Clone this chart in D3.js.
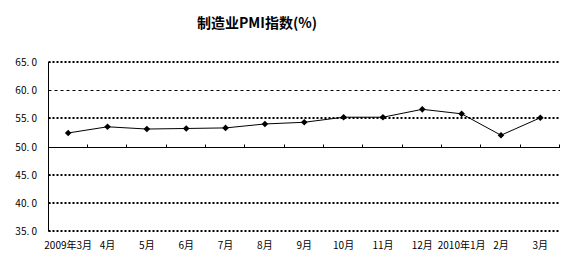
<!DOCTYPE html>
<html lang="zh">
<head>
    <meta charset="UTF-8"/>
    <title>制造业PMI指数</title>
    <script src="https://d3js.org/d3.v7.min.js"></script>
    <style>
        body, html {
            margin: 0;
            padding: 0;
            background: #fff;
            overflow: hidden;
        }
        svg { display: block; }
        .tick-label {
            font-family: "Noto Sans CJK SC", "DejaVu Sans", sans-serif;
            font-size: 10px;
            fill: #000;
        }
    </style>
</head>
<body>
<svg class="chart" width="566" height="278"></svg>
<script>
    // data
    const months = ["2009年3月", "4月", "5月", "6月", "7月", "8月", "9月", "10月", "11月", "12月", "2010年1月", "2月", "3月"];
    const pmi = [52.4, 53.5, 53.1, 53.2, 53.3, 54.0, 54.3, 55.2, 55.2, 56.6, 55.8, 52.0, 55.1];
    const yTicks = [35, 40, 45, 50, 55, 60, 65];

    const svg = d3.select(".chart");
    const plotLeft = 48.5, plotRight = 560, plotTop = 62, plotBottom = 231;

    const x = d3.scaleBand().domain(months).range([plotLeft, plotRight]);
    const y = d3.scaleLinear().domain([35, 65]).range([plotBottom, plotTop]);

    // title
    svg.append("text")
        .attr("x", 257)
        .attr("y", 28)
        .attr("text-anchor", "middle")
        .attr("font-family", "'Noto Sans CJK SC', sans-serif")
        .attr("font-size", 14)
        .attr("font-weight", "bold")
        .text("制造业PMI指数(%)");

    // gridlines
    yTicks.filter(d => d !== 50).forEach(d => {
        const thin = d === 60;
        svg.append("line")
            .attr("x1", plotLeft).attr("x2", plotRight)
            .attr("y1", Math.round(y(d)) + (thin ? 0.5 : 0))
            .attr("y2", Math.round(y(d)) + (thin ? 0.5 : 0))
            .attr("stroke", "#000")
            .attr("stroke-width", thin ? 1 : 2)
            .attr("stroke-dasharray", thin ? "3,3" : "2,2");
    });

    // y axis
    svg.append("line")
        .attr("x1", plotLeft).attr("x2", plotLeft)
        .attr("y1", plotTop).attr("y2", plotBottom)
        .attr("stroke", "#000").attr("stroke-width", 1);

    svg.selectAll(".ytick")
        .data(yTicks)
        .enter()
        .append("line")
        .attr("x1", plotLeft).attr("x2", plotLeft + 2)
        .attr("y1", d => Math.round(y(d)) + 0.5)
        .attr("y2", d => Math.round(y(d)) + 0.5)
        .attr("stroke", "#000");

    svg.selectAll(".ylab")
        .data(yTicks)
        .enter()
        .append("text")
        .attr("class", "tick-label")
        .attr("x", 37)
        .attr("y", d => y(d) + 4)
        .attr("text-anchor", "end")
        .attr("font-size", 11)
        .text(d => d.toFixed(1).replace(".", ". "));

    // x axis at 50
    const y50 = Math.round(y(50)) + 0.5;
    svg.append("line")
        .attr("x1", plotLeft).attr("x2", plotRight)
        .attr("y1", y50).attr("y2", y50)
        .attr("stroke", "#000");

    const bounds = months.map(m => x(m)).concat([plotRight]);
    svg.selectAll(".xtick")
        .data(bounds.slice(1))
        .enter()
        .append("line")
        .attr("x1", d => Math.round(d) - 0.5)
        .attr("x2", d => Math.round(d) - 0.5)
        .attr("y1", y50 - 3).attr("y2", y50)
        .attr("stroke", "#000");

    svg.selectAll(".xlab")
        .data(months)
        .enter()
        .append("text")
        .attr("class", "tick-label")
        .attr("x", d => x(d) + x.bandwidth() / 2)
        .attr("y", 249)
        .attr("text-anchor", "middle")
        .text(d => d);

    // line
    const line = d3.line()
        .x((d, i) => x(months[i]) + x.bandwidth() / 2)
        .y(d => y(d));

    svg.append("path")
        .datum(pmi)
        .attr("fill", "none")
        .attr("stroke", "#000")
        .attr("stroke-width", 1)
        .attr("d", line);

    svg.selectAll(".pt")
        .data(pmi)
        .enter()
        .append("path")
        .attr("d", d3.symbol().type(d3.symbolDiamond2).size(28))
        .attr("transform", (d, i) => `translate(${x(months[i]) + x.bandwidth() / 2},${y(d)})`)
        .attr("fill", "#000");
</script>
</body>
</html>
